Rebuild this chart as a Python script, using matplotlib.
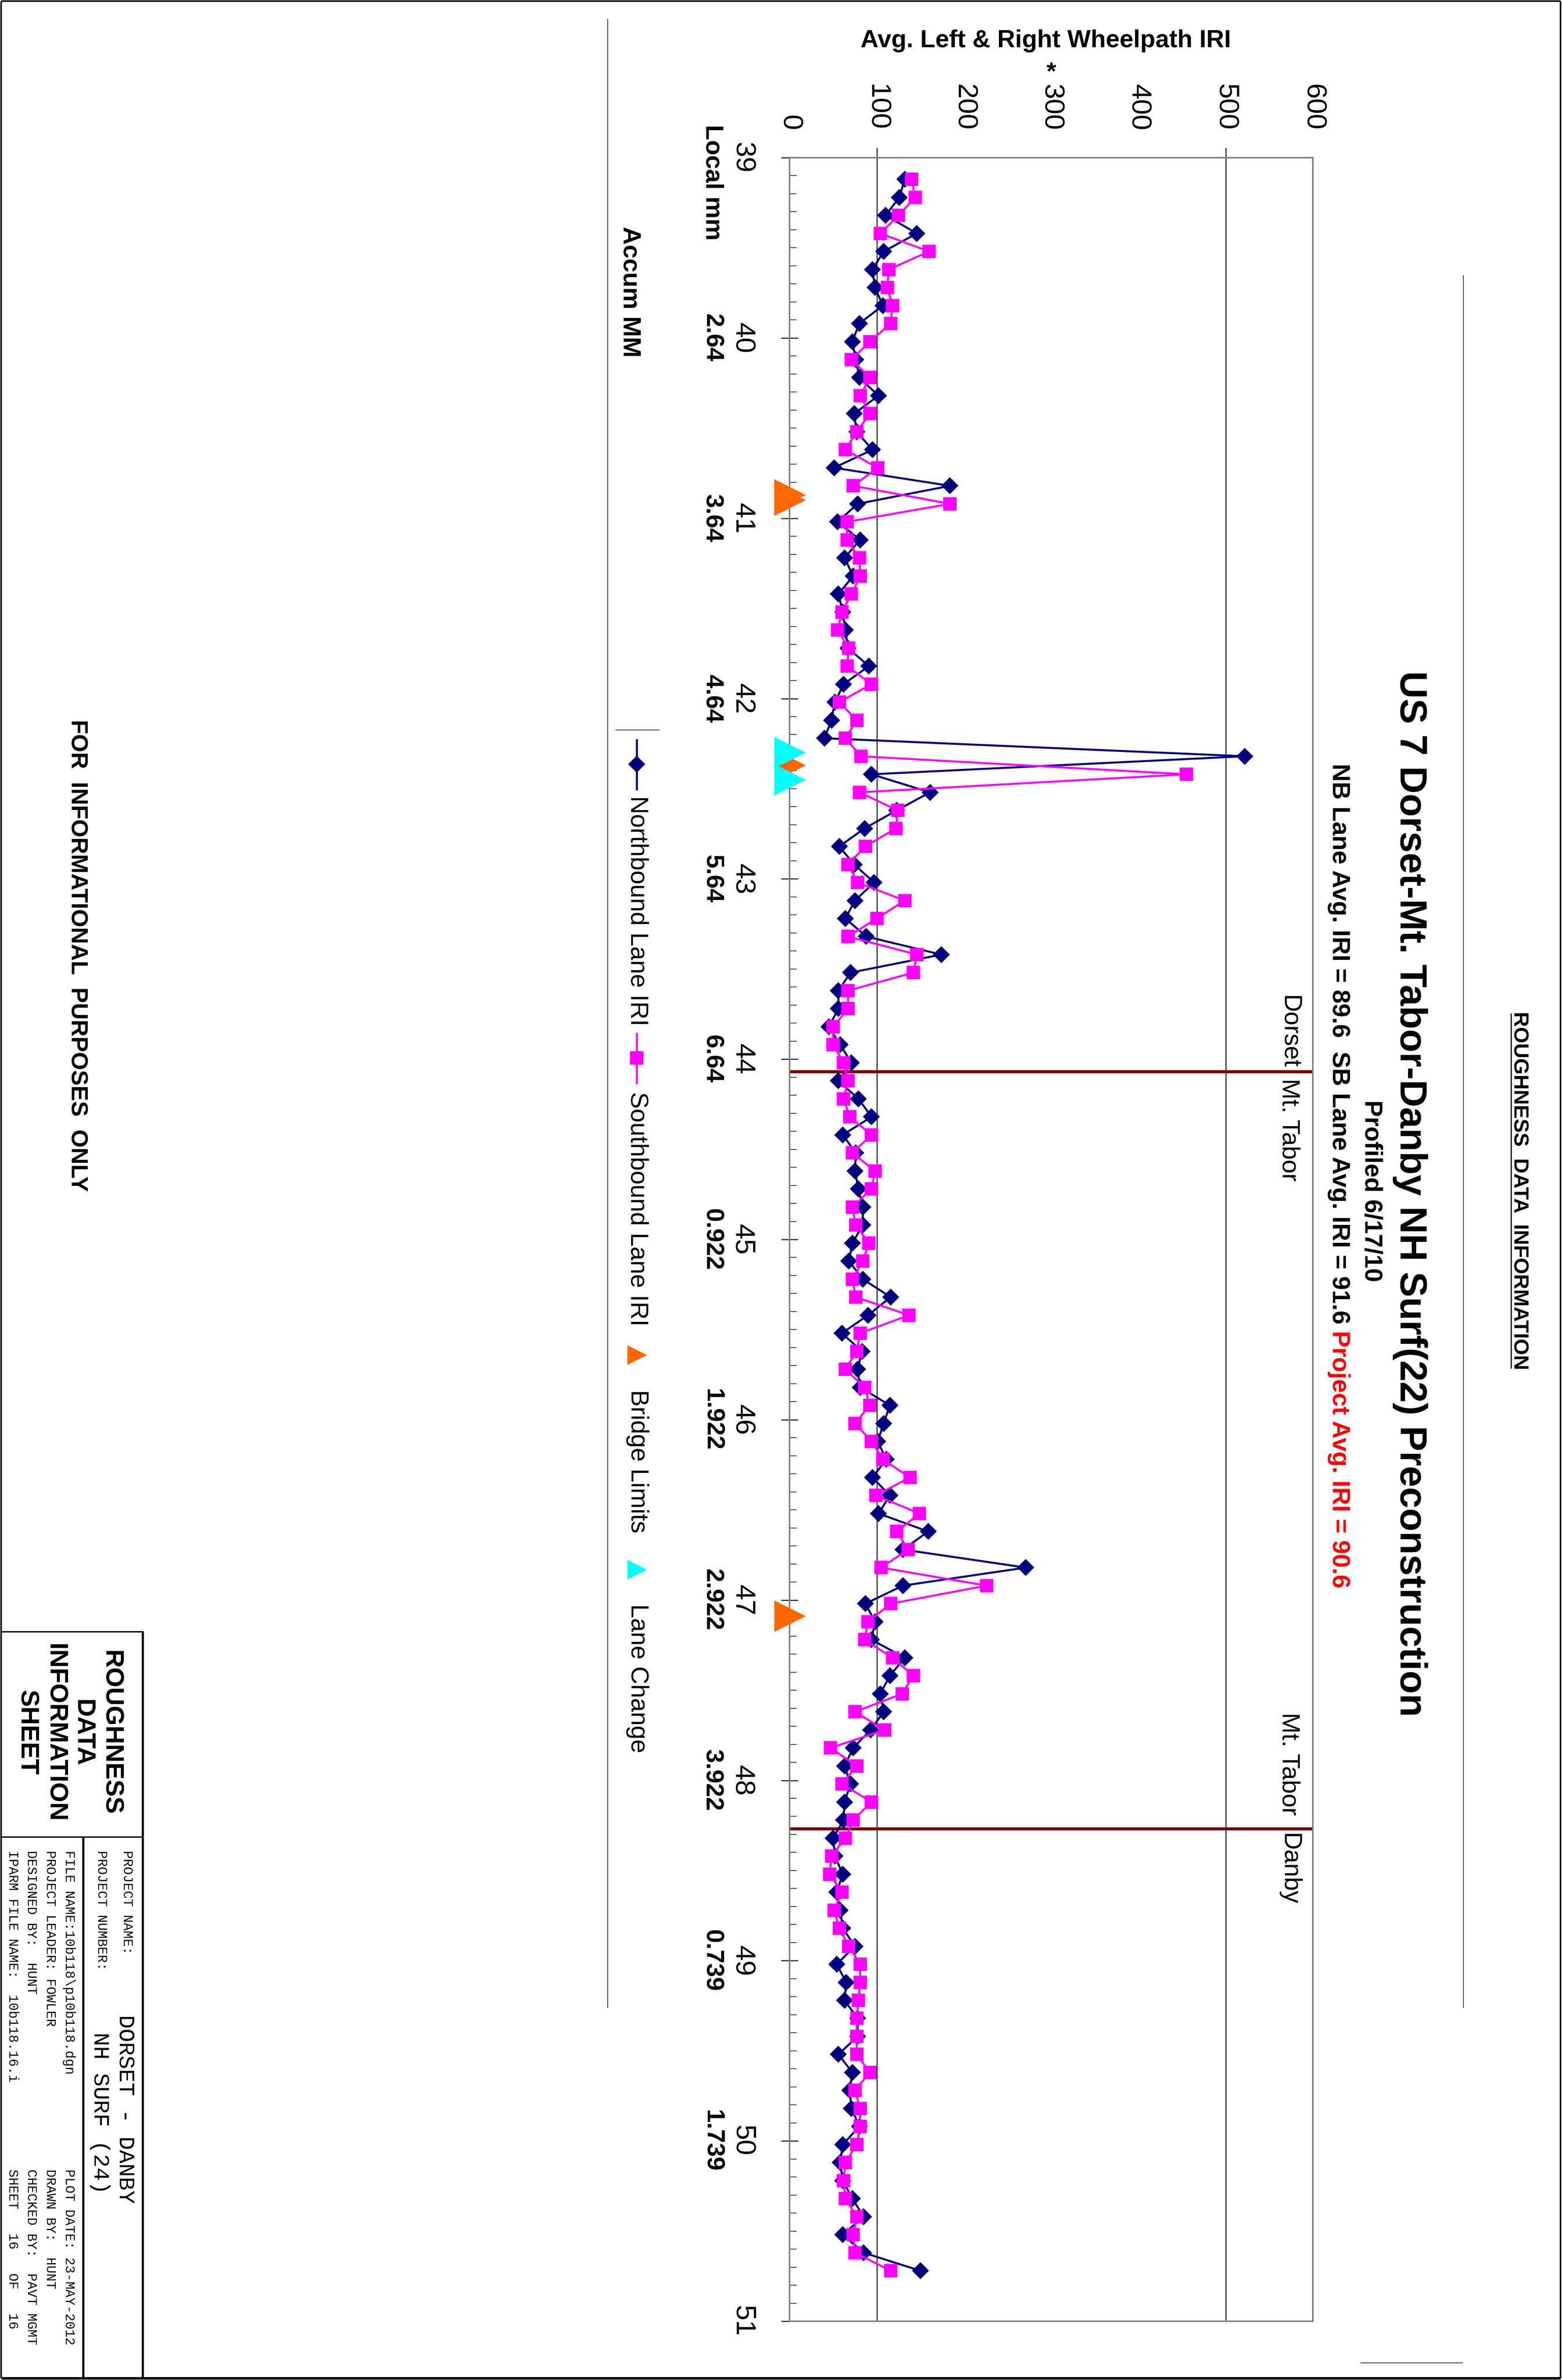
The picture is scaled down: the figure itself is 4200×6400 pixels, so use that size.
import matplotlib
matplotlib.use("Agg")
import matplotlib.pyplot as plt
from matplotlib import transforms
from matplotlib.lines import Line2D
from matplotlib.ticker import MultipleLocator

W, H, DPI = 4200, 6400, 300

# data
mile = [39.12, 39.22, 39.32, 39.42, 39.52, 39.62, 39.72, 39.82, 39.92, 40.02,
        40.12, 40.22, 40.32, 40.42, 40.52, 40.62, 40.72, 40.82, 40.92, 41.02,
        41.12, 41.22, 41.32, 41.42, 41.52, 41.62, 41.72, 41.82, 41.92, 42.02,
        42.12, 42.22, 42.32, 42.42, 42.52, 42.62, 42.72, 42.82, 42.92, 43.02,
        43.12, 43.22, 43.32, 43.42, 43.52, 43.62, 43.72, 43.82, 43.92, 44.02,
        44.12, 44.22, 44.32, 44.42, 44.52, 44.62, 44.72, 44.82, 44.92, 45.02,
        45.12, 45.22, 45.32, 45.42, 45.52, 45.62, 45.72, 45.82, 45.92, 46.02,
        46.12, 46.22, 46.32, 46.42, 46.52, 46.62, 46.72, 46.82, 46.92, 47.02,
        47.12, 47.22, 47.32, 47.42, 47.52, 47.62, 47.72, 47.82, 47.92, 48.02,
        48.12, 48.22, 48.32, 48.42, 48.52, 48.62, 48.72, 48.82, 48.92, 49.02,
        49.12, 49.22, 49.32, 49.42, 49.52, 49.62, 49.72, 49.82, 49.92, 50.02,
        50.12, 50.22, 50.32, 50.42, 50.52, 50.62, 50.72]

nb_iri = [132, 126, 110, 146, 108, 95, 98, 107, 80, 72,
          76, 80, 102, 74, 77, 95, 51, 184, 78, 55,
          81, 63, 73, 56, 61, 64, 67, 91, 62, 52,
          48, 40, 522, 94, 161, 123, 86, 57, 74, 97,
          75, 64, 88, 174, 70, 56, 56, 45, 58, 71,
          56, 79, 94, 61, 76, 75, 79, 84, 84, 72,
          68, 84, 116, 90, 60, 83, 78, 81, 115, 108,
          101, 111, 95, 115, 102, 159, 130, 271, 130, 87,
          98, 94, 132, 115, 104, 108, 93, 73, 63, 70,
          63, 62, 50, 52, 61, 54, 58, 61, 75, 54,
          65, 63, 78, 78, 56, 72, 69, 71, 80, 61,
          58, 61, 72, 85, 61, 85, 150]

sb_iri = [140, 144, 125, 104, 160, 114, 112, 118, 116, 92,
          71, 92, 81, 92, 77, 64, 101, 73, 184, 66,
          66, 80, 81, 71, 60, 55, 68, 66, 94, 57,
          77, 64, 82, 455, 80, 124, 122, 87, 67, 78,
          132, 100, 67, 146, 142, 67, 67, 50, 50, 62,
          67, 62, 69, 94, 72, 98, 94, 72, 76, 91,
          84, 72, 76, 137, 81, 77, 64, 86, 92, 75,
          94, 107, 138, 99, 149, 123, 136, 105, 226, 116,
          90, 86, 118, 142, 129, 75, 109, 47, 77, 60,
          94, 73, 64, 48, 46, 60, 51, 57, 68, 81,
          81, 79, 77, 77, 77, 92, 75, 81, 81, 77,
          64, 62, 64, 77, 73, 75, 116]

bridge_limits = [40.87, 40.90, 42.37, 47.09]
lane_change = [42.30, 42.45]
section_breaks = [44.07, 48.27]
ref_lines = [100, 500]

iri_ticks = [0, 100, 200, 300, 400, 500, 600]
mile_ticks = [39, 40, 41, 42, 43, 44, 45, 46, 47, 48, 49, 50, 51]
accum_labels = ["Local mm", "2.64", "3.64", "4.64", "5.64", "6.64", "0.922",
                "1.922", "2.922", "3.922", "0.739", "1.739", ""]

NAVY = '#000080'
MAGENTA = '#FF00FF'
ORANGE = '#FF6600'
CYAN = '#00FFFF'
BROWN = '#800000'

plt.rcParams['font.family'] = ['Liberation Sans', 'DejaVu Sans']

fig = plt.figure(figsize=(W / DPI, H / DPI), dpi=DPI)


def fx(px):
    return px / W


def fy(py):
    return 1 - py / H


def vtext(px, py, s, size, weight='normal', ha='left', color='black',
          family=None):
    """Text read top to bottom, baseline at px, anchored at py."""
    kw = {}
    if family:
        kw['family'] = family
    return fig.text(fx(px), fy(py), s, rotation=-90, rotation_mode='anchor',
                    ha=ha, va='baseline', fontsize=size, fontweight=weight,
                    color=color, **kw)


def seg(x0, y0, x1, y1, lw=0.5, color='black'):
    fig.add_artist(Line2D([fx(x0), fx(x1)], [fy(y0), fy(y1)],
                          transform=fig.transFigure, color=color, lw=lw,
                          solid_capstyle='butt'))


# plot area
ax = fig.add_axes([fx(2123), fy(6242), fx(3530) - fx(2123),
                   fy(424) - fy(6242)])
ax.set_xlim(0, 600)
ax.set_ylim(51, 39)
for s in ax.spines.values():
    s.set_color('#808080')
    s.set_linewidth(1.0)

ax.xaxis.set_ticks_position('top')
ax.set_xticks(iri_ticks)
ax.set_xticklabels([str(v) for v in iri_ticks])
ax.tick_params(axis='x', which='both', top=True, bottom=False, labeltop=True,
               labelbottom=False, length=0, pad=17.5, labelsize=18,
               labelrotation=-90)
ax.set_yticks(mile_ticks)
ax.set_yticklabels([])
ax.yaxis.set_minor_locator(MultipleLocator(0.1))
ax.tick_params(axis='y', which='major', direction='inout', length=11,
               width=0.6, color='black')
ax.tick_params(axis='y', which='minor', direction='in', length=4.5,
               width=0.4, color='black')

for v in ref_lines:
    ax.axvline(v, color='black', lw=0.6, ymax=1.0043, clip_on=False,
               zorder=1)
for m in section_breaks:
    ax.axhline(m, color=BROWN, lw=2.0, zorder=2)

ax.plot(nb_iri, mile, color=NAVY, lw=1.3, marker='D', ms=6.8, zorder=3)
ax.plot(sb_iri, mile, color=MAGENTA, lw=1.3, marker='s', ms=7.5, zorder=4)
ax.plot([0] * len(bridge_limits), bridge_limits, ls='none', marker='>',
        ms=18.5, color=ORANGE, clip_on=False, zorder=5)
ax.plot([0] * len(lane_change), lane_change, ls='none', marker='>',
        ms=18.5, color=CYAN, clip_on=False, zorder=6)

# mile labels down the left side
lab_tr = transforms.blended_transform_factory(fig.transFigure, ax.transData)
for m, acc in zip(mile_ticks, accum_labels):
    fig.text(fx(1977), m, str(m), transform=lab_tr, rotation=-90,
             rotation_mode='anchor', ha='center', va='baseline', fontsize=18)
    if acc and acc != accum_labels[0]:
        fig.text(fx(1897), m, acc, transform=lab_tr, rotation=-90,
                 rotation_mode='anchor', ha='center', va='baseline',
                 fontsize=16, fontweight='bold')
vtext(1899, 335, accum_labels[0], 16, 'bold')
vtext(1677, 609, "Accum MM", 16, 'bold')

# axis title
fig.text(fx(2812), fy(127), "Avg. Left & Right Wheelpath IRI", ha='center',
         va='baseline', fontsize=16, fontweight='bold')
fig.text(fx(2827), fy(213), "*", ha='center', va='baseline', fontsize=16,
         fontweight='bold')

# legend (rotated with the sheet)
leg_items = [("Northbound Lane IRI", NAVY, 'D', 6.8, 2055, 2140, True),
             ("Southbound Lane IRI", MAGENTA, 's', 7.5, 2845, 2936, True),
             ("Bridge Limits", ORANGE, '>', 11, 3644, 3737, False),
             ("Lane Change", CYAN, '>', 11, 4221, 4313, False)]
for label, col, mk, ms, ym, yt, with_line in leg_items:
    if with_line:
        seg(1712, ym - 68, 1712, ym + 70, lw=1.3, color=col)
    fig.add_artist(Line2D([fx(1712)], [fy(ym)], transform=fig.transFigure,
                          ls='none', marker=mk, ms=ms, color=col))
    vtext(1697, yt, label, 16)
seg(1655, 1963, 1773, 1963, lw=0.4)

# titles on the right
vtext(3765, 3210, "US 7 Dorset-Mt. Tabor-Danby NH Surf(22) Preconstruction",
      24.5, 'bold', ha='center')
vtext(3670, 3202, "Profiled 6/17/10", 16, 'bold', ha='center')
t_avg = vtext(3583, 2053, "NB Lane Avg. IRI = 89.6  SB Lane Avg. IRI = 91.6",
              16, 'bold')
fig.canvas.draw()
bb = t_avg.get_window_extent(renderer=fig.canvas.get_renderer())
vtext(3583, H - bb.y0 + 18, "Project Avg. IRI = 90.6", 16, 'bold',
      color='#FF0000')

vtext(4071, 3202, "ROUGHNESS  DATA  INFORMATION", 13.5, 'bold', ha='center')
seg(4063, 2725, 4063, 3680, lw=0.8)

vtext(3449, 2873, "Dorset", 16, ha='right')
vtext(3449, 2900, "Mt. Tabor", 16)
vtext(3449, 4882, "Mt. Tabor", 16, ha='right')
vtext(3449, 4930, "Danby", 16)

vtext(191, 3204, "FOR  INFORMATIONAL  PURPOSES  ONLY", 15, 'bold', ha='right')

# sheet frame
seg(3, 3, 4196, 3, lw=1.0)
seg(3, 3, 3, 6395, lw=1.0)
seg(4196, 3, 4196, 6395, lw=1.0)
seg(3, 6395, 4196, 6395, lw=1.6)
seg(1634, 51, 1634, 5400, lw=0.4)
seg(3935, 740, 3935, 5400, lw=0.4)
seg(3658, 6354, 3933, 6354, lw=0.4)

# title block
seg(3, 4388, 386, 4388, lw=0.9)
seg(384, 4388, 384, 6395, lw=1.4)
seg(3, 4940, 384, 4940, lw=0.9)
seg(224, 4940, 224, 6395, lw=1.4)
for txt, bx in [("ROUGHNESS", 280), ("DATA", 204), ("INFORMATION", 130),
                ("SHEET", 54)]:
    vtext(bx, 4660, txt, 16.5, 'bold', ha='center')

mono = ['Liberation Mono', 'DejaVu Sans Mono']
vtext(332, 4976, "PROJECT NAME:", 8.6, family=mono)
vtext(263, 4976, "PROJECT NUMBER:", 8.6, family=mono)
vtext(321, 5418, "DORSET - DANBY", 14.5, family=mono)
vtext(253, 5465, "NH SURF (24)", 14.5, family=mono)
vtext(176, 4976, "FILE NAME:10b118\\p10b118.dgn", 8.6, family=mono)
vtext(125, 4976, "PROJECT LEADER: FOWLER", 8.6, family=mono)
vtext(74, 4976, "DESIGNED BY:  HUNT", 8.6, family=mono)
vtext(24, 4976, "IPARM FILE NAME:  10b118.16.i", 8.6, family=mono)
vtext(176, 5833, "PLOT DATE: 23-MAY-2012", 8.6, family=mono)
vtext(125, 5833, "DRAWN BY:  HUNT", 8.6, family=mono)
vtext(74, 5833, "CHECKED BY:  PAVT MGMT", 8.6, family=mono)
vtext(24, 5833, "SHEET   16   OF   16", 8.6, family=mono)

fig.savefig("out.png", dpi=DPI, facecolor='white')
